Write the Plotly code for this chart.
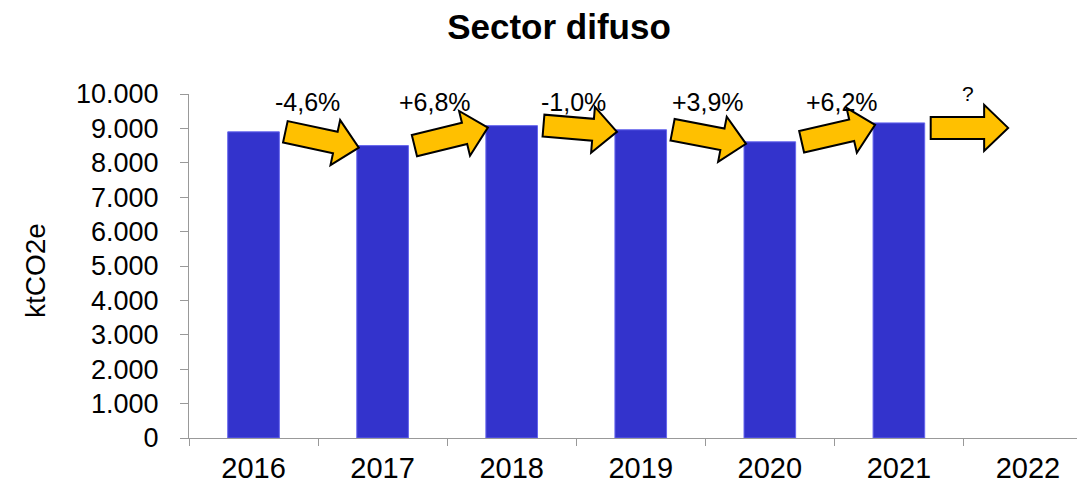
import plotly.graph_objects as go

# ---- data ----
years = ["2016", "2017", "2018", "2019", "2020", "2021", "2022"]
emissions = [8900, 8500, 9080, 8960, 8610, 9160, None]
changes = ["-4,6%", "+6,8%", "-1,0%", "+3,9%", "+6,2%", "?"]
y_ticks = [0, 1000, 2000, 3000, 4000, 5000, 6000, 7000, 8000, 9000, 10000]

# ---- layout geometry ----
W, H = 1077, 486
ML, MR, MT, MB = 189, 0, 94, 48
PW, PH = W - ML - MR, H - MT - MB
XMIN, XMAX = -0.5, 6.38
YMIN, YMAX = 0, 10000
BAR_W = 0.4
LABEL_DX = [-11, -12, -3, 3, 8, 5]   # pixel nudges of change labels

def xpx(v):
    return ML + (v - XMIN) / (XMAX - XMIN) * PW

def ypx(v):
    return MT + PH - (v - YMIN) / (YMAX - YMIN) * PH

def to_paper(px, py):
    return (px - ML) / PW, (MT + PH - py) / PH

fig = go.Figure()
fig.add_trace(go.Bar(
    x=years, y=emissions, width=BAR_W,
    marker=dict(color="#3333CC", line=dict(color="#6666EE", width=1)),
    hoverinfo="x+y",
))

# ---- block arrows between consecutive bars ----
def arrow_path(tx, ty, px_, py_, shaft=11, head=23, head_len=24):
    dx, dy = px_ - tx, py_ - ty
    L = (dx * dx + dy * dy) ** 0.5
    ux, uy = dx / L, dy / L
    nx, ny = -uy, ux
    bx, by = px_ - ux * head_len, py_ - uy * head_len
    pts = [
        (tx + nx * shaft, ty + ny * shaft),
        (bx + nx * shaft, by + ny * shaft),
        (bx + nx * head, by + ny * head),
        (px_, py_),
        (bx - nx * head, by - ny * head),
        (bx - nx * shaft, by - ny * shaft),
        (tx - nx * shaft, ty - ny * shaft),
    ]
    pp = [to_paper(a, b) for a, b in pts]
    return "M " + " L ".join(f"{a:.5f},{b:.5f}" for a, b in pp) + " Z"

half = BAR_W / 2 * PW / (XMAX - XMIN)
for i in range(len(changes)):
    right_i = xpx(i) + half
    top_i = ypx(emissions[i])
    if emissions[i + 1] is not None:
        tail = (right_i + 6, top_i)
        tip = (xpx(i + 1) - half + 2, ypx(emissions[i + 1]) + 2)
    else:
        tail = (right_i + 6, top_i + 5)
        tip = (xpx(i + 1) - half + 6, top_i + 5)
    fig.add_shape(type="path", xref="paper", yref="paper",
                  path=arrow_path(*tail, *tip),
                  fillcolor="#FFC000", line=dict(color="black", width=2))
    is_q = changes[i] == "?"
    lx, ly = to_paper(xpx(i + 0.5) + LABEL_DX[i], 93 if is_q else 102)
    fig.add_annotation(x=lx, y=ly, xref="paper", yref="paper",
                       text=changes[i], showarrow=False,
                       xanchor="center", yanchor="middle",
                       font=dict(size=21 if is_q else 25, color="black"))

# y axis title as rotated text
tx_, ty_ = to_paper(35, 271)
fig.add_annotation(x=tx_, y=ty_, xref="paper", yref="paper", text="ktCO2e",
                   textangle=-90, showarrow=False, xanchor="center", yanchor="middle",
                   font=dict(size=28, color="black"))

fig.update_layout(
    width=W, height=H,
    margin=dict(l=ML, r=MR, t=MT, b=MB, autoexpand=False),
    paper_bgcolor="white", plot_bgcolor="white",
    separators=",.",
    showlegend=False,
    font=dict(family="Liberation Sans, Arial, sans-serif", color="black"),
    title=dict(text="<b>Sector difuso</b>", x=559 / W, xref="container", xanchor="center",
               y=1 - 27 / H, yanchor="middle",
               font=dict(size=35, color="black", family="Liberation Sans, Arial, sans-serif")),
    xaxis=dict(type="category", range=[XMIN, XMAX], tickson="boundaries",
               ticks="outside", ticklen=7, tickcolor="#999999",
               showline=True, linecolor="#999999", linewidth=1,
               showgrid=False, tickfont=dict(size=29), ticklabelstandoff=4),
    yaxis=dict(range=[YMIN, YMAX], tickvals=y_ticks, tickformat=",.0f",
               ticks="outside", ticklen=8, tickcolor="#999999",
               showline=True, linecolor="#999999", linewidth=1,
               showgrid=False, zeroline=False, tickfont=dict(size=27),
               ticklabelstandoff=16),
)

fig.write_html("out.html", config={"displayModeBar": False},
               post_script="document.body.style.margin='0px';")
